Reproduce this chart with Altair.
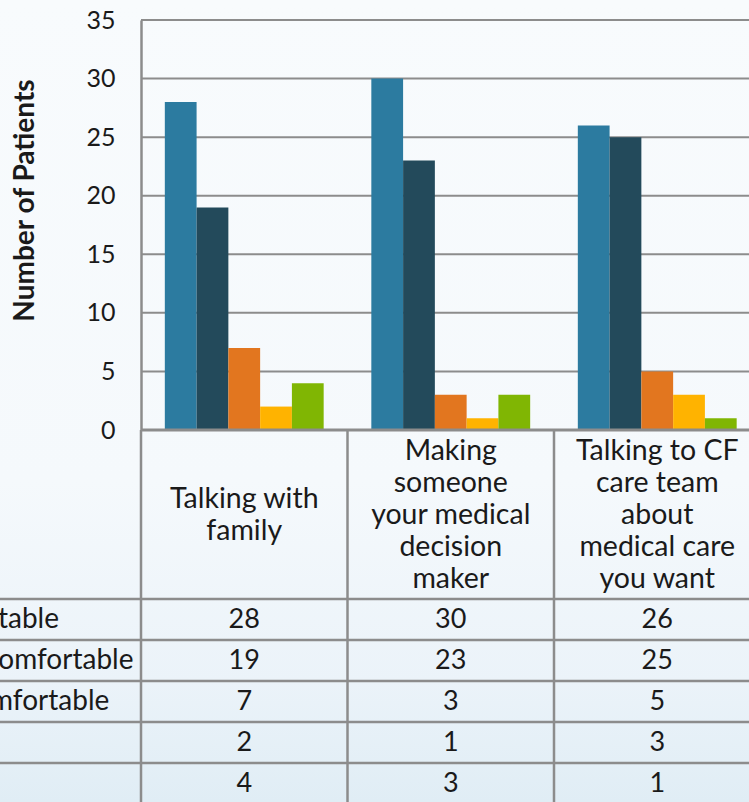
import altair as alt
import pandas as pd

# ---- data ----
categories = [
    "Talking with family",
    "Making someone your medical decision maker",
    "Talking to CF care team about medical care you want",
]
category_lines = [
    ["Talking with", "family"],
    ["Making", "someone", "your medical", "decision", "maker"],
    ["Talking to CF", "care team", "about", "medical care", "you want"],
]
series = [
    "Very comfortable",
    "Somewhat comfortable",
    "Not very comfortable",
    "Neutral",
    "Not sure",
]
very_comfortable = [28, 30, 26]
somewhat_comfortable = [19, 23, 25]
not_very_comfortable = [7, 3, 5]
neutral = [2, 1, 3]
not_sure = [4, 3, 1]
series_values = [very_comfortable, somewhat_comfortable, not_very_comfortable, neutral, not_sure]
colors = ["#2C7BA0", "#234A5B", "#E2761F", "#FFB300", "#80B603"]
y_ticks = [0, 5, 10, 15, 20, 25, 30, 35]

rows = []
for s, vals in zip(series, series_values):
    for c, v in zip(categories, vals):
        rows.append({"category": c, "series": s, "value": v})
df = pd.DataFrame(rows)

hdr_rows = []
for c, lines in zip(categories, category_lines):
    n = len(lines)
    for i, line in enumerate(lines):
        hdr_rows.append({"category": c, "line": line, "pos": i - (n - 1) / 2})
hdr_df = pd.DataFrame(hdr_rows)

series_df = pd.DataFrame({"series": series})
cat_df = pd.DataFrame({"category": categories})
tick_df = pd.DataFrame({"t": y_ticks})
zero_df = pd.DataFrame({"t": [0]})

# ---- layout / style ----
W, H = 608, 782
GRID = "#8C8C8C"
TXT = "#1A1A1A"
FONT = "Lato"

x_scale = alt.Scale(domain=categories, range=[0, 619.5], paddingInner=0, paddingOuter=0)
bar_y = alt.Scale(domain=[0, 35], range=[410, 0], nice=False)
row_y = alt.Scale(domain=series, range=[579, 784], paddingInner=0, paddingOuter=0)
hdr_y = alt.Scale(domain=[-2, 2], range=[430.5, 558.5], nice=False, zero=False)

xcat = alt.X("category:N", scale=x_scale, axis=None)

bg = alt.Chart(pd.DataFrame({"a": [0]})).mark_rect(
    color=alt.LinearGradient(
        gradient="linear", x1=0, x2=0, y1=0, y2=1,
        stops=[
            alt.GradientStop(offset=0, color="#F8FBFD"),
            alt.GradientStop(offset=0.6, color="#F5F9FC"),
            alt.GradientStop(offset=0.85, color="#EBF3F9"),
            alt.GradientStop(offset=1, color="#E0EDF5"),
        ],
    )
).encode(x=alt.value(-141), x2=alt.value(W), y=alt.value(-20), y2=alt.value(H))

grid = alt.Chart(tick_df).mark_rule(color=GRID, strokeWidth=2).encode(
    y=alt.Y("t:Q", scale=bar_y, axis=None), x=alt.value(0), x2=alt.value(W)
)

row_lines = alt.Chart(series_df).mark_rule(color=GRID, strokeWidth=2.5).encode(
    y=alt.Y("series:N", scale=row_y, axis=None, bandPosition=0),
    x=alt.value(-300), x2=alt.value(W),
)

col_lines = alt.Chart(cat_df).mark_rule(color=GRID, strokeWidth=2.5).encode(
    x=alt.X("category:N", scale=x_scale, axis=None, bandPosition=0),
    y=alt.value(410), y2=alt.value(H),
)

bars = alt.Chart(df).mark_bar().encode(
    x=xcat,
    xOffset=alt.XOffset("series:N", scale=alt.Scale(domain=series, paddingInner=0, paddingOuter=0.75)),
    y=alt.Y("value:Q", scale=bar_y, axis=alt.Axis(
        title="Number of Patients", values=y_ticks, grid=False, ticks=False,
        domain=True, domainColor=GRID, domainWidth=2.5,
        labelFont=FONT, labelFontSize=25, labelColor=TXT, labelPadding=26,
        titleFont=FONT, titleFontSize=28, titleFontWeight="bold", titleColor=TXT,
        titleX=-116, titleY=180, titleAngle=270, titleAlign="center",
        titleBaseline="middle", zindex=1,
    )),
    color=alt.Color("series:N", scale=alt.Scale(domain=series, range=colors), legend=None),
)

base_line = alt.Chart(zero_df).mark_rule(color=GRID, strokeWidth=3).encode(
    y=alt.Y("t:Q", scale=bar_y, axis=None), x=alt.value(0), x2=alt.value(W)
)

headers = alt.Chart(hdr_df).mark_text(
    font=FONT, fontSize=28.5, baseline="middle", align="center", color=TXT,
).encode(x=xcat, y=alt.Y("pos:Q", scale=hdr_y, axis=None), text="line:N")

cells = alt.Chart(df).mark_text(
    font=FONT, fontSize=27, baseline="middle", align="center", color=TXT
).encode(x=xcat, y=alt.Y("series:N", scale=row_y, axis=None), text="value:Q")

row_labels = alt.Chart(series_df).mark_text(
    font=FONT, fontSize=28, baseline="middle", align="left", color=TXT
).encode(x=alt.value(-293), y=alt.Y("series:N", scale=row_y, axis=None), text="series:N")

chart = alt.layer(
    bg, grid, row_lines, col_lines, bars, base_line, headers, cells, row_labels
).resolve_scale(y="independent").properties(
    width=W, height=H,
    autosize=alt.AutoSizeParams(type="none"),
    padding={"left": 141, "top": 20, "right": 0, "bottom": 0},
    background="#F7FBFD",
).configure_view(stroke=None)

chart.save("out.html", embed_options={"renderer": "svg", "actions": False})
